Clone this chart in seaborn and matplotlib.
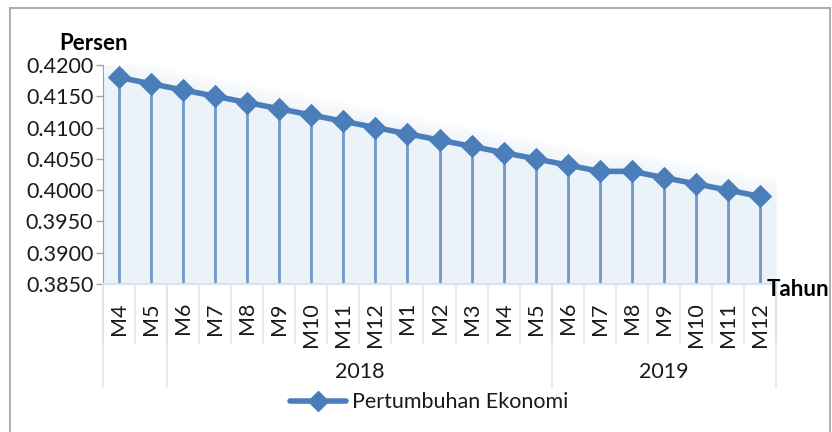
import numpy as np
import pandas as pd
import matplotlib.pyplot as plt
import seaborn as sns
from matplotlib.patches import Rectangle
from matplotlib.lines import Line2D

# --- data ---
months = ['M4', 'M5', 'M6', 'M7', 'M8', 'M9', 'M10', 'M11', 'M12',
          'M1', 'M2', 'M3', 'M4', 'M5', 'M6', 'M7', 'M8', 'M9', 'M10', 'M11', 'M12']
growth = [0.4180, 0.4170, 0.4160, 0.4150, 0.4140, 0.4130, 0.4120, 0.4110, 0.4100,
          0.4090, 0.4080, 0.4070, 0.4060, 0.4050, 0.4040, 0.4030, 0.4030, 0.4020,
          0.4010, 0.4000, 0.3990]
years = ['', '2018', '2019']
year_start = [0, 2, 14]   # first category index of each year group
y_ticks = [0.3850, 0.3900, 0.3950, 0.4000, 0.4050, 0.4100, 0.4150, 0.4200]

df = pd.DataFrame({'idx': np.arange(len(months)), 'month': months, 'value': growth})

sns.set_style('white')
plt.rcParams['font.family'] = ['Lato', 'DejaVu Sans']

line_col = '#4a7ebb'
drop_col = '#7098cc'
fill_col = '#ebf2f8'
txt_col = '#1a1a1a'
fs = 15.5

fig = plt.figure(figsize=(8.32, 4.32), dpi=100)
ax = fig.add_axes([0.1238, 0.3426, 0.8089, 0.507])

n = len(months)
ax.set_xlim(-0.5, n - 0.5)
ax.set_ylim(0.385, 0.420)

# pale area under the line, stretched to the plot edges, with a soft fade above it
ax_x = np.concatenate([[-0.5], df['idx'], [n - 0.5]])
ax_y = np.concatenate([[growth[0]], growth, [growth[-1]]])
ax.fill_between(ax_x, 0.385, ax_y, color=fill_col, lw=0, zorder=0)
for k in range(1, 9):
    ax.fill_between(ax_x, ax_y, ax_y + k * 0.0004, color=fill_col, alpha=0.12, lw=0, zorder=0)

# drop lines
ax.vlines(df['idx'], 0.385, df['value'], color=drop_col, lw=2, zorder=2)

sns.lineplot(data=df, x='idx', y='value', ax=ax, color=line_col, lw=4,
             marker='D', markersize=11, markeredgecolor=line_col, zorder=3)

ax.set_xlabel('')
ax.set_ylabel('')
ax.set_xticks(df['idx'])
ax.set_xticklabels(months, rotation=90, fontsize=fs, color=txt_col)
ax.tick_params(axis='x', length=0, pad=13)
ax.set_yticks(y_ticks)
ax.set_yticklabels([f'{v:.4f}' for v in y_ticks], fontsize=fs, color=txt_col)
ax.tick_params(axis='y', length=5, width=1, color='#a0a0a0', direction='out', pad=2, left=True)

for s in ['top', 'right']:
    ax.spines[s].set_visible(False)
ax.spines['left'].set_color('#a0a0a0')
ax.spines['bottom'].set_color('#d9e3ef')
ax.spines['bottom'].set_linewidth(1.5)

# category separators and year group separators
sep_col = '#dde6f0'
tr = ax.get_xaxis_transform()
for b in np.arange(n + 1) - 0.5:
    ax.add_line(Line2D([b, b], [0, -0.27], transform=tr, color=sep_col, lw=1.2, clip_on=False))
bounds = year_start + [n]
for b in bounds:
    ax.add_line(Line2D([b - 0.5, b - 0.5], [0, -0.47], transform=tr, color=sep_col, lw=1.2, clip_on=False))
for i, yr in enumerate(years):
    if yr:
        cx = (bounds[i] + bounds[i + 1] - 1) / 2
        ax.text(cx, -0.40, yr, transform=tr, ha='center', va='center', fontsize=fs, color=txt_col)

fig.text(0.071, 0.900, 'Persen', fontsize=16, fontweight='bold', color='black', va='center')
fig.text(0.922, 0.329, 'Tahun', fontsize=16, fontweight='bold', color='black', va='center')

handle = Line2D([], [], color=line_col, lw=4, marker='D', markersize=10)
fig.legend([handle], ['Pertumbuhan Ekonomi'], loc='center', bbox_to_anchor=(0.516, 0.069),
           frameon=False, fontsize=fs, handlelength=2.6, handletextpad=0.3,
           labelcolor=txt_col)

fig.patches.append(Rectangle((10 / 832, -0.1), 820 / 832, 1.1 - 8 / 432, transform=fig.transFigure,
                             fill=False, edgecolor='#b0b0b0', lw=1.5))

fig.savefig('out.png', dpi=100)
